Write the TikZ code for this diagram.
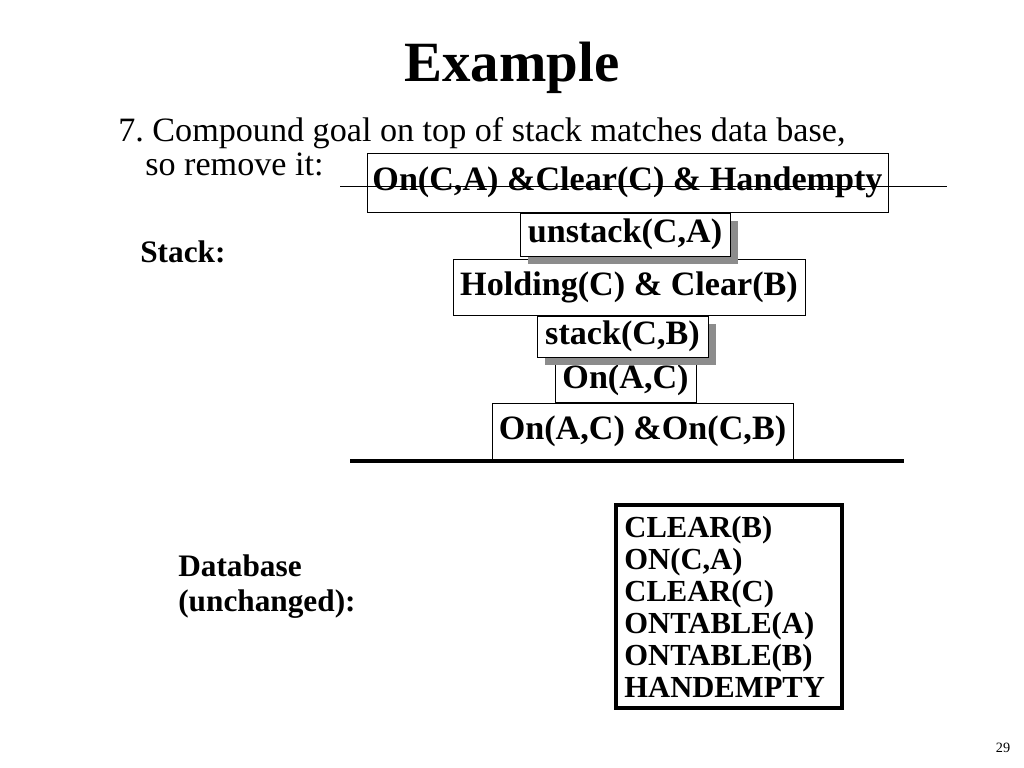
\documentclass[tikz,border=0pt]{standalone}
\usepackage{fontspec}
\setmainfont{Liberation Serif}
\usetikzlibrary{shadows}
\frenchspacing

\tikzset{
  goalbox/.style={draw, fill=white, inner sep=0pt, font=\fontsize{24}{28}\bfseries\selectfont},
  opbox/.style={goalbox, drop shadow={shadow xshift=5.5pt, shadow yshift=-5.5pt, fill=gray!90, opacity=1}},
  label/.style={anchor=base west, inner sep=0pt},
}

\begin{document}
\begin{tikzpicture}[x=0.703pt, y=-0.703pt]
\useasboundingbox (0,0) rectangle (1024,768);
\node[font=\fontsize{40}{46}\bfseries\selectfont] (title) at (512,68) {Example};
\node[label, font=\fontsize{24}{28}\selectfont] (intro1) at (118,141) {7. Compound goal on top of stack matches data base,};
\node[label, font=\fontsize{24}{28}\selectfont] (intro2) at (145,175) {so remove it:};
\node[label, font=\fontsize{22}{26}\bfseries\selectfont] (stack) at (140,262) {Stack:};

% goal stack
\node[goalbox, minimum width=366pt, minimum height=41.5pt] (g1) at (627.5,182.5) {On(C,A) \&Clear(C) \& Handempty};
\coordinate (s1) at (340,186);
\coordinate (s2) at (947,186);
\draw (s1) -- (s2);
\node[goalbox, minimum width=247.5pt, minimum height=39.4pt] (g3) at (629,287) {Holding(C) \& Clear(B)};
\node[opbox, minimum width=147.6pt, minimum height=30.2pt] (g2) at (625,234.5) {unstack(C,A)};
\node[goalbox, minimum width=211.6pt, minimum height=39.4pt] (g6) at (642.5,431) {On(A,C) \&On(C,B)};
\node[goalbox, minimum width=99pt, minimum height=31pt] (g5) at (625.5,380) {On(A,C)};
\node[opbox, minimum width=120pt, minimum height=28.8pt] (g4) at (622.5,336.5) {stack(C,B)};
\coordinate (b1) at (350,461);
\coordinate (b2) at (904,461);
\draw[line width=3.5pt] (b1) -- (b2);

% database
\node[label, font=\fontsize{22}{24}\bfseries\selectfont, align=left] (dblabel) at (178,611) {Database\\(unchanged):};
\node[draw, line width=2.8pt, inner xsep=6pt, inner ysep=0pt, text width=147pt, align=left,
  minimum height=142.7pt, font=\fontsize{21.5}{22.5}\bfseries\selectfont] (db) at (729,606.5)
  {CLEAR(B)\\ON(C,A)\\CLEAR(C)\\ONTABLE(A)\\ONTABLE(B)\\HANDEMPTY};
\node[font=\fontsize{10}{12}\selectfont] (page) at (1003,748) {29};
\end{tikzpicture}
\end{document}
